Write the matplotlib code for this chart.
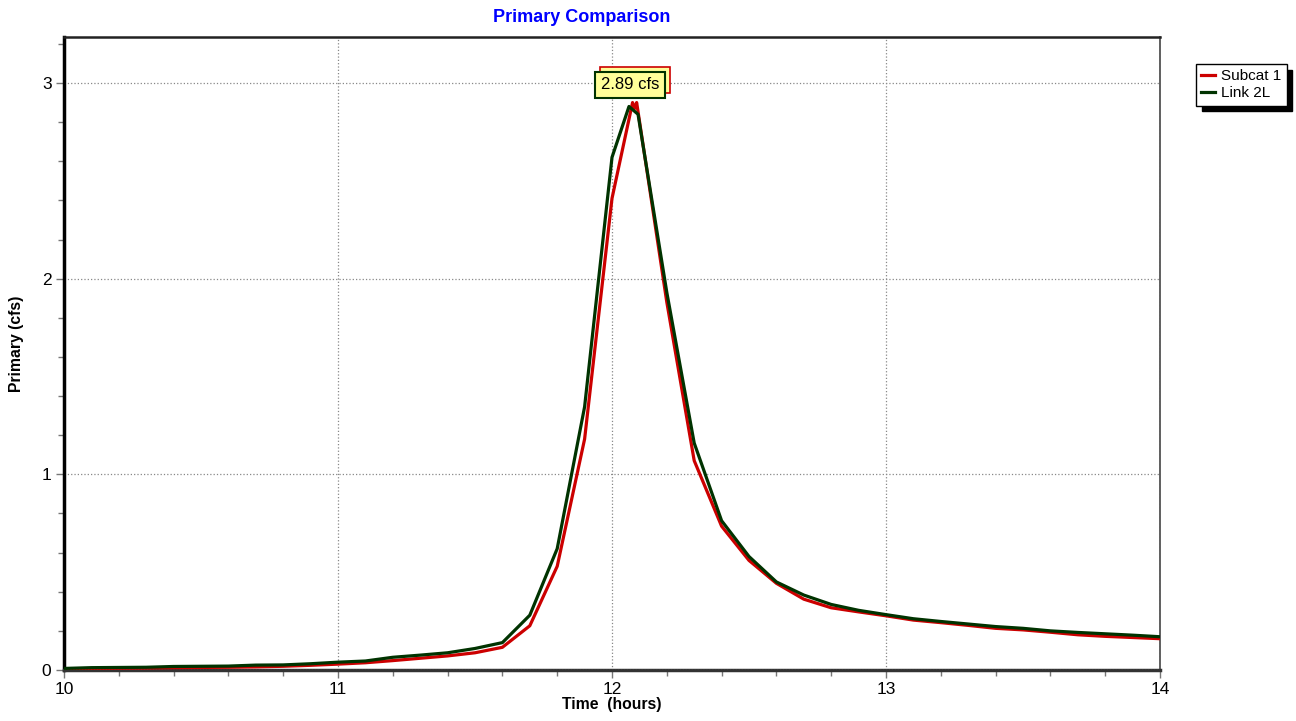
import matplotlib as mpl
mpl.use('agg')
import matplotlib.pyplot as plt
from matplotlib.patches import Rectangle
from matplotlib.ticker import MultipleLocator

plt.rc('font', family=['Liberation Sans', 'DejaVu Sans'])

# Subcat 1 (red)
t_sub = [10.0, 10.1, 10.2, 10.3, 10.4, 10.5, 10.6, 10.7, 10.8, 10.9,
         11.0, 11.1, 11.2, 11.3, 11.4, 11.5, 11.6, 11.7, 11.8, 11.9,
         12.0, 12.075, 12.083, 12.09, 12.2, 12.3, 12.4, 12.5, 12.6, 12.7,
         12.8, 12.9, 13.0, 13.1, 13.2, 13.3, 13.4, 13.5, 13.6, 13.7,
         13.8, 13.9, 14.0]
q_sub = [0.005, 0.007, 0.009, 0.010, 0.012, 0.013, 0.014, 0.016, 0.019, 0.024,
         0.030, 0.037, 0.048, 0.060, 0.072, 0.088, 0.116, 0.226, 0.53, 1.18,
         2.41, 2.90, 2.87, 2.90, 1.88, 1.07, 0.735, 0.56, 0.443, 0.362,
         0.318, 0.297, 0.277, 0.255, 0.242, 0.228, 0.213, 0.205, 0.193, 0.180,
         0.172, 0.166, 0.160]

# Link 2L (green)
t_link = [10.0, 10.1, 10.2, 10.3, 10.4, 10.5, 10.6, 10.7, 10.8, 10.9,
          11.0, 11.1, 11.2, 11.3, 11.4, 11.5, 11.6, 11.7, 11.8, 11.9,
          12.0, 12.062, 12.095, 12.2, 12.3, 12.4, 12.5, 12.6, 12.7,
          12.8, 12.9, 13.0, 13.1, 13.2, 13.3, 13.4, 13.5, 13.6, 13.7,
          13.8, 13.9, 14.0]
q_link = [0.008, 0.012, 0.013, 0.014, 0.018, 0.019, 0.020, 0.025, 0.026, 0.032,
          0.040, 0.046, 0.065, 0.076, 0.088, 0.110, 0.140, 0.280, 0.62, 1.345,
          2.62, 2.88, 2.84, 1.93, 1.16, 0.763, 0.58, 0.45, 0.383,
          0.335, 0.305, 0.283, 0.262, 0.248, 0.235, 0.222, 0.213, 0.200, 0.192,
          0.185, 0.178, 0.170]

peak_label = "2.89 cfs"
peak_x, peak_y = 12.066, 2.99

red = '#cc0000'
green = '#003300'

fig = plt.figure(figsize=(12.96, 7.21), dpi=100)
ax = fig.add_axes([64 / 1296, 1 - 670 / 721, (1160 - 64) / 1296, (670 - 37) / 721])

ax.plot(t_sub, q_sub, color=red, lw=2.3, label='Subcat 1', zorder=3)
ax.plot(t_link, q_link, color=green, lw=2.3, label='Link 2L', zorder=4)

ax.set_xlim(10, 14)
ax.set_ylim(0, 3.235)
ax.xaxis.set_major_locator(MultipleLocator(1))
ax.xaxis.set_minor_locator(MultipleLocator(0.2))
ax.yaxis.set_major_locator(MultipleLocator(1))
ax.yaxis.set_minor_locator(MultipleLocator(0.2))
ax.grid(True, which='major', color='#888888', ls=':', lw=0.9)
ax.tick_params(which='major', direction='out', length=6, width=1, color='#777777',
               labelsize=12.5, pad=3)
ax.tick_params(which='minor', direction='out', length=4, width=1, color='#777777')

ax.spines['left'].set_linewidth(2.5)
ax.spines['left'].set_color('black')
ax.spines['top'].set_linewidth(1.8)
ax.spines['top'].set_color('#222222')
ax.spines['right'].set_linewidth(1.2)
ax.spines['right'].set_color('#444444')
ax.spines['bottom'].set_linewidth(2.5)
ax.spines['bottom'].set_color('#333333')
ax.axhline(0, color='#bbbbbb', ls=':', lw=0.8, zorder=5)

ax.set_xlabel('Time  (hours)', fontsize=11.3, fontweight='bold', labelpad=0)
fig.text(17 / 1296, 1 - 344 / 721, 'Primary (cfs)', rotation=90,
         fontsize=11.3, fontweight='bold', ha='center', va='center')

# peak label, green box on top of a red-edged copy of the box
lab = ax.annotate(peak_label, xy=(peak_x, peak_y), xycoords='data',
                  ha='center', va='center', fontsize=12, zorder=7,
                  bbox=dict(boxstyle='square,pad=0.35', fc='#ffff99', ec=green, lw=1.5))
fig.canvas.draw()
bb = lab.get_bbox_patch().get_window_extent()
back = Rectangle((bb.x0 + 5, bb.y0 + 5), bb.width, bb.height, transform=None,
                 fc='#ffff99', ec=red, lw=1.2, zorder=6)
ax.add_artist(back)

fig.text(582 / 1296, 1 - 17 / 721, 'Primary Comparison', color='#0000ff',
         fontsize=13, fontweight='bold', ha='center', va='center')

leg = fig.legend(loc='upper left', bbox_to_anchor=(1196 / 1296, 1 - 64 / 721),
                 fontsize=11, handlelength=0.9, handletextpad=0.4,
                 borderpad=0.35, labelspacing=0.2, fancybox=False,
                 borderaxespad=0, handleheight=0.7,
                 shadow={'color': 'black', 'alpha': 1, 'ox': 4, 'oy': -4})
leg.get_frame().set_edgecolor('black')
leg.get_frame().set_linewidth(1.0)

fig.savefig('out.png', dpi=100)
